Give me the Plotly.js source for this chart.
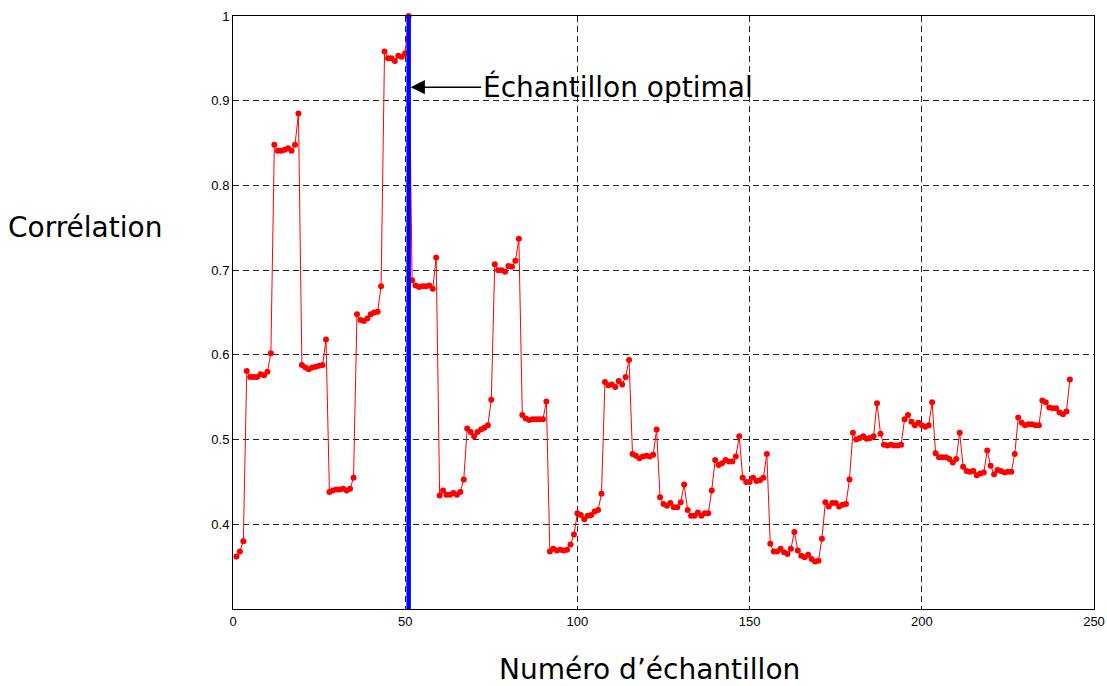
<!DOCTYPE html>
<html>
<head>
<meta charset="utf-8">
<script src="https://cdn.plot.ly/plotly-3.0.1.min.js"></script>
<style>html,body{margin:0;padding:0;background:#fff;}#chart{width:1107px;height:686px;}</style>
</head>
<body>
<div id="chart"></div>
<script>
// Correlation for each sample number (1..243)
const correlation = [
  0.362, 0.368, 0.380,
  0.581, 0.574, 0.574, 0.574, 0.577, 0.576, 0.580, 0.602,
  0.848, 0.841, 0.841, 0.842, 0.844, 0.841, 0.848, 0.885,
  0.588, 0.585, 0.583, 0.585, 0.586, 0.587, 0.588, 0.618,
  0.438, 0.440, 0.441, 0.441, 0.442, 0.440, 0.442, 0.455,
  0.648, 0.641, 0.640, 0.643, 0.648, 0.650, 0.651, 0.681,
  0.958, 0.950, 0.950, 0.947, 0.953, 0.952, 0.956, 1.000,
  0.688, 0.682, 0.680, 0.681, 0.681, 0.682, 0.678, 0.715,
  0.434, 0.440, 0.435, 0.435, 0.437, 0.435, 0.438, 0.453,
  0.513, 0.509, 0.504, 0.509, 0.512, 0.514, 0.517, 0.547,
  0.707, 0.700, 0.700, 0.698, 0.705, 0.704, 0.711, 0.737,
  0.529, 0.525, 0.523, 0.524, 0.524, 0.524, 0.524, 0.545,
  0.368, 0.371, 0.369, 0.370, 0.369, 0.370, 0.376, 0.388,
  0.413, 0.411, 0.406, 0.410, 0.411, 0.415, 0.417, 0.436,
  0.568, 0.564, 0.565, 0.562, 0.569, 0.565, 0.574, 0.594,
  0.483, 0.481, 0.478, 0.480, 0.481, 0.480, 0.482, 0.512,
  0.432, 0.424, 0.422, 0.425, 0.420, 0.420, 0.426, 0.447,
  0.417, 0.410, 0.410, 0.414, 0.410, 0.413, 0.413, 0.440,
  0.476, 0.470, 0.472, 0.476, 0.474, 0.474, 0.480, 0.504,
  0.455, 0.450, 0.450, 0.455, 0.451, 0.452, 0.455, 0.483,
  0.377, 0.368, 0.368, 0.371, 0.367, 0.365, 0.371, 0.391,
  0.369, 0.363, 0.361, 0.364, 0.359, 0.356, 0.357, 0.383,
  0.426, 0.421, 0.425, 0.425, 0.421, 0.423, 0.424, 0.453,
  0.508, 0.500, 0.502, 0.504, 0.501, 0.502, 0.504, 0.543,
  0.507, 0.494, 0.493, 0.494, 0.493, 0.493, 0.494, 0.524,
  0.529, 0.521, 0.517, 0.520, 0.517, 0.515, 0.517, 0.544,
  0.484, 0.479, 0.479, 0.479, 0.477, 0.473, 0.477, 0.508,
  0.468, 0.463, 0.462, 0.463, 0.458, 0.460, 0.461, 0.487,
  0.469, 0.459, 0.464, 0.463, 0.461, 0.462, 0.462, 0.483,
  0.526, 0.520, 0.517, 0.518, 0.518, 0.517, 0.517, 0.546,
  0.544, 0.538, 0.537, 0.537, 0.532, 0.530, 0.533, 0.571
];
const sampleNumbers = correlation.map((_, i) => i + 1);

const optimalSample = 51;
const optimalLineY = [0.3, 1.0];
const optimalArrowY = 0.916;

const xTicks = [0, 50, 100, 150, 200, 250];
const yTicks = [0.4, 0.5, 0.6, 0.7, 0.8, 0.9, 1];
const yTickText = ['0.4', '0.5', '0.6', '0.7', '0.8', '0.9', '1'];

const xTitle = 'Numéro d’échantillon';
const yTitle = 'Corrélation';
const optimalLabel = 'Échantillon optimal';

const titleFont = {family: 'DejaVu Sans, sans-serif', size: 28, color: '#000'};
const tickFont = {family: 'Liberation Sans, Arial, sans-serif', size: 13, color: '#000'};

const traces = [
  {
    x: sampleNumbers,
    y: correlation,
    type: 'scatter',
    mode: 'lines+markers',
    line: {color: '#ff0000', width: 1},
    marker: {color: '#ff0000', size: 6},
    cliponaxis: false,
    hoverinfo: 'x+y'
  },
  {
    x: [optimalSample, optimalSample],
    y: optimalLineY,
    type: 'scatter',
    mode: 'lines',
    line: {color: '#0000ff', width: 4.5},
    hoverinfo: 'skip'
  }
];

const axisCommon = {
  showline: true,
  mirror: true,
  linecolor: '#000',
  linewidth: 1,
  showgrid: true,
  gridcolor: '#222',
  gridwidth: 1,
  griddash: '6px,4px',
  zeroline: false,
  ticks: '',
  tickfont: tickFont
};

const layout = {
  width: 1107,
  height: 686,
  margin: {l: 233, r: 13, t: 16, b: 77, pad: 0},
  paper_bgcolor: '#fff',
  plot_bgcolor: '#fff',
  showlegend: false,
  xaxis: Object.assign({}, axisCommon, {
    range: [0, 250],
    tickmode: 'array',
    tickvals: xTicks,
    ticktext: xTicks.map(String)
  }),
  yaxis: Object.assign({}, axisCommon, {
    range: [0.3, 1],
    tickmode: 'array',
    tickvals: yTicks,
    ticktext: yTickText
  }),
  annotations: [
    {
      x: optimalSample, y: optimalArrowY, xref: 'x', yref: 'y',
      text: optimalLabel,
      showarrow: true,
      ax: 209, ay: 0,
      arrowhead: 2, arrowsize: 1.9, arrowwidth: 1.5, arrowcolor: '#000',
      standoff: 2,
      font: titleFont
    },
    {
      x: -0.172, y: 0.6425, xref: 'paper', yref: 'paper',
      xanchor: 'center', yanchor: 'middle',
      text: yTitle, showarrow: false, font: titleFont
    },
    {
      x: 0.4843, y: -0.102, xref: 'paper', yref: 'paper',
      xanchor: 'center', yanchor: 'middle',
      text: xTitle, showarrow: false, font: titleFont
    }
  ]
};

Plotly.newPlot('chart', traces, layout, {displayModeBar: false, staticPlot: true});
</script>
</body>
</html>
